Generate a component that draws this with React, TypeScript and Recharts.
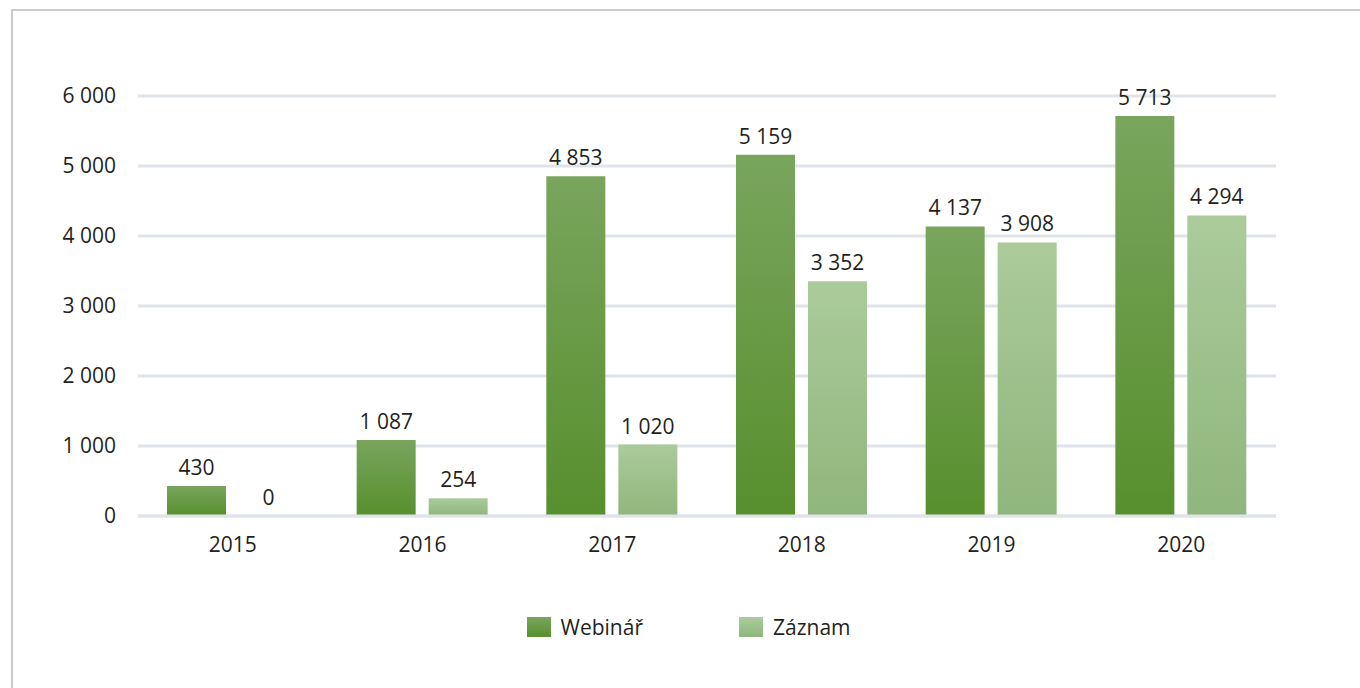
import React from 'react';
import { BarChart, Bar, XAxis, YAxis, CartesianGrid, Legend, LabelList } from 'recharts';

const YEARS = ['2015', '2016', '2017', '2018', '2019', '2020'];
const WEBINAR = [430, 1087, 4853, 5159, 4137, 5713];
const ZAZNAM = [0, 254, 1020, 3352, 3908, 4294];
const Y_TICKS = [0, 1000, 2000, 3000, 4000, 5000, 6000];

const data = YEARS.map((year, i) => ({ year, webinar: WEBINAR[i], zaznam: ZAZNAM[i] }));

const FONT = '"Open Sans", "Noto Sans", sans-serif';
const TEXT = '#231f20';
const GRID = '#dfe3ea';
const FS = 21;

const fmt = (v: any) => String(v).replace(/\B(?=(\d{3})+(?!\d))/g, ' ');

const LEGEND_BG: Record<string, string> = {
  webinar: 'linear-gradient(#79a55d, #578f2d)',
  zaznam: 'linear-gradient(#abcb9b, #8fb67c)',
};

const renderLegend = (props: any) => {
  const { payload } = props;
  return (
    <div style={{ display: 'flex', justifyContent: 'center', alignItems: 'center', height: 40, paddingLeft: 17, fontFamily: FONT, fontSize: FS, color: TEXT }}>
      {payload.map((entry: any, i: number) => (
        <div key={entry.dataKey} style={{ display: 'flex', alignItems: 'center', marginLeft: i === 0 ? 0 : 96 }}>
          <span style={{ display: 'inline-block', width: 24, height: 20, background: LEGEND_BG[entry.dataKey] }} />
          <span style={{ marginLeft: 10 }}>{entry.value}</span>
        </div>
      ))}
    </div>
  );
};

export default function App() {
  return (
    <div style={{ position: 'absolute', left: 0, top: 0, width: 1360, height: 688, background: '#fff' }}>
      <div style={{ position: 'absolute', left: 11, top: 9, right: 0, bottom: 0, borderTop: '2px solid #cbcbcb', borderLeft: '2px solid #cbcbcb' }} />
      <BarChart
        width={1360}
        height={688}
        data={data}
        margin={{ top: 96, right: 84, left: 0, bottom: 41 }}
        barSize={59}
        barGap={13}
        style={{ position: 'absolute', left: 0, top: 0 }}
      >
        <defs>
          <linearGradient id="gWeb" x1="0" y1="0" x2="0" y2="1">
            <stop offset="0%" stopColor="#79a55d" />
            <stop offset="100%" stopColor="#578f2d" />
          </linearGradient>
          <linearGradient id="gZaz" x1="0" y1="0" x2="0" y2="1">
            <stop offset="0%" stopColor="#abcb9b" />
            <stop offset="100%" stopColor="#8fb67c" />
          </linearGradient>
        </defs>
        <CartesianGrid vertical={false} stroke={GRID} strokeWidth={3} />
        <XAxis
          dataKey="year"
          height={91}
          axisLine={{ stroke: GRID, strokeWidth: 3 }}
          tickLine={false}
          tickMargin={15}
          tick={{ fill: TEXT, fontSize: FS, fontFamily: FONT }}
        />
        <YAxis
          width={138}
          domain={[0, 6000]}
          ticks={Y_TICKS}
          axisLine={false}
          tickLine={false}
          tickMargin={16}
          tickFormatter={fmt}
          tick={{ fill: TEXT, fontSize: FS, fontFamily: FONT }}
        />
        <Legend verticalAlign="bottom" content={renderLegend} wrapperStyle={{ left: 0, width: 1360 }} />
        <Bar dataKey="webinar" name="Webinář" fill="url(#gWeb)" isAnimationActive={false}>
          <LabelList dataKey="webinar" position="top" offset={11} formatter={fmt} style={{ fill: TEXT, fontSize: FS, fontFamily: FONT }} />
        </Bar>
        <Bar dataKey="zaznam" name="Záznam" fill="url(#gZaz)" minPointSize={0.01} isAnimationActive={false}>
          <LabelList dataKey="zaznam" position="top" offset={11} formatter={fmt} style={{ fill: TEXT, fontSize: FS, fontFamily: FONT }} />
        </Bar>
      </BarChart>
    </div>
  );
}
